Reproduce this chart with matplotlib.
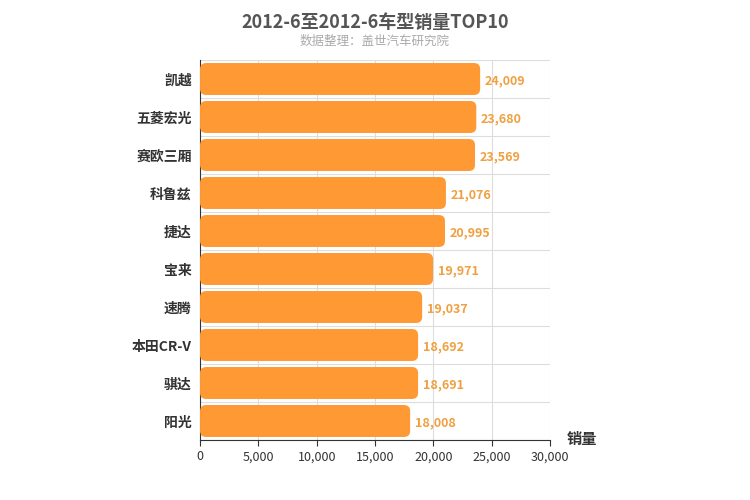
import matplotlib.pyplot as plt
from matplotlib.patches import FancyBboxPatch
import numpy as np

plt.rcParams['font.family'] = ['Noto Sans CJK SC', 'DejaVu Sans']

models = ['凯越', '五菱宏光', '赛欧三厢', '科鲁兹', '捷达', '宝来', '速腾', '本田CR-V', '骐达', '阳光']
sales = [24009, 23680, 23569, 21076, 20995, 19971, 19037, 18692, 18691, 18008]
xticks = [0, 5000, 10000, 15000, 20000, 25000, 30000]

fig = plt.figure(figsize=(7.5, 5), dpi=100)
ax = fig.add_axes([0.2667, 0.12, 0.4667, 0.76])
ax.set_xlim(0, 30000)
ax.set_ylim(len(models) - 0.5, -0.5)

h = 0.84
for i, v in enumerate(sales):
    p = FancyBboxPatch((0, i - h / 2), v, h,
                       boxstyle='round,pad=0,rounding_size=520',
                       mutation_aspect=0.16 / 520,
                       fc='#ff9933', ec='none', zorder=3)
    ax.add_patch(p)
    ax.text(v + 400, i + 0.05, f'{v:,}', va='center', ha='left',
            color='#f0a040', fontsize=9, fontweight='bold', zorder=4)

ax.set_yticks(range(len(models)))
ax.set_yticklabels(models, fontsize=10, fontweight='bold', color='#333333')
ax.set_xticks(xticks)
ax.set_xticklabels([f'{t:,}' for t in xticks], fontsize=9, color='#333333')
for b in np.arange(-0.5, len(models), 1):
    ax.axhline(b, color='#dddddd', lw=0.8, zorder=1)
for t in xticks[1:]:
    ax.axvline(t, color='#dddddd', lw=0.8, zorder=1)
for s in ['top', 'right']:
    ax.spines[s].set_visible(False)
ax.spines['left'].set_color('#333333')
ax.spines['bottom'].set_color('#333333')
ax.tick_params(axis='y', length=0, pad=6)
ax.tick_params(axis='x', length=4, color='#333333')

fig.text(0.5, 0.955, '2012-6至2012-6车型销量TOP10', ha='center', va='center',
         fontsize=13, fontweight='bold', color='#555555')
fig.text(0.5, 0.918, '数据整理：盖世汽车研究院', ha='center', va='center',
         fontsize=9, color='#aaaaaa')
fig.text(0.755, 0.122, '销量', ha='left', va='center', fontsize=11,
         fontweight='bold', color='#333333')

fig.savefig('out.png', dpi=100)
